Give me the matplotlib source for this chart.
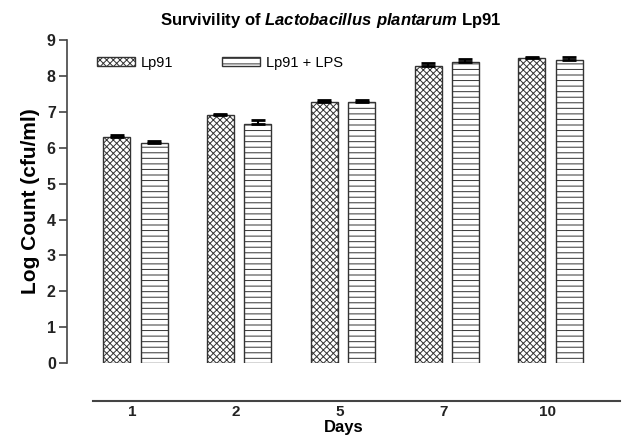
import numpy as np
import matplotlib
matplotlib.use('Agg')
from matplotlib import pyplot as plt

plt.rcParams['font.family'] = ['Liberation Sans', 'DejaVu Sans']
plt.rcParams['mathtext.fontset'] = 'custom'
plt.rcParams['mathtext.bfit'] = 'Liberation Sans:bold:italic'
plt.rcParams['mathtext.rm'] = 'Liberation Sans'
plt.rcParams['hatch.linewidth'] = 0.7
plt.rcParams['hatch.color'] = '#444444'

# data
days = ['1', '2', '5', '7', '10']
lp91 = [6.30, 6.90, 7.27, 8.28, 8.50]
lp91_err = [0.05, 0.03, 0.05, 0.08, 0.03]
lp91_lps = [6.12, 6.66, 7.27, 8.40, 8.45]
lp91_lps_err = [0.08, 0.10, 0.05, 0.08, 0.07]

x = np.arange(len(days))
w = 0.26
off = 0.18
shift = 0.03  # bar pairs sit a little right of the tick labels

fig = plt.figure(figsize=(6.25, 4.44), dpi=100)
ax = fig.add_axes([0.107, 0.182, 0.885, 0.728])

ax.bar(x - off + shift, lp91, w, color='white', edgecolor='#333333', linewidth=1.0,
       hatch='xxxxx', label='Lp91')
ax.bar(x + off + shift, lp91_lps, w, color='white', edgecolor='#333333', linewidth=1.0,
       hatch='---', label='Lp91 + LPS')
ax.errorbar(x - off + shift, lp91, yerr=[np.zeros(len(x)), lp91_err], fmt='none',
            ecolor='black', elinewidth=1.5, capsize=5, capthick=2)
ax.errorbar(x + off + shift, lp91_lps, yerr=[np.zeros(len(x)), lp91_lps_err], fmt='none',
            ecolor='black', elinewidth=1.5, capsize=5, capthick=2)

ax.set_xlim(-0.63, 4.70)
ax.set_ylim(0, 9)
ax.set_yticks(range(10))
ax.set_xticks(x)
ax.set_xticklabels(days)

for s in ['top', 'right']:
    ax.spines[s].set_visible(False)
ax.spines['left'].set_color('#444444')
ax.spines['left'].set_linewidth(1.2)
ax.spines['bottom'].set_position(('outward', 27))
ax.spines['bottom'].set_bounds(-0.38, 4.70)
ax.spines['bottom'].set_color('#444444')
ax.spines['bottom'].set_linewidth(1.5)

ax.tick_params(axis='x', length=0, pad=3, labelsize=11)
ax.tick_params(axis='y', length=6, width=1.2, color='#444444', pad=2, labelsize=11.5)
for lab in ax.get_xticklabels() + ax.get_yticklabels():
    lab.set_fontweight('bold')
    lab.set_color('#222222')

ax.set_ylabel('Log Count (cfu/ml)', fontsize=15, fontweight='bold', labelpad=5)
ax.set_xlabel('Days', fontsize=12, fontweight='bold', labelpad=1)
ax.set_title(r'Survivility of $\mathbfit{Lactobacillus\ plantarum}$ Lp91',
             fontsize=12, fontweight='bold', pad=11, x=0.477)

ax.legend(loc='center left', bbox_to_anchor=(0.03, 0.93), ncol=2, frameon=False,
          fontsize=10.5, handlelength=2.6, handleheight=0.5, columnspacing=3.4,
          handletextpad=0.4)

fig.savefig('out.png', dpi=100)
